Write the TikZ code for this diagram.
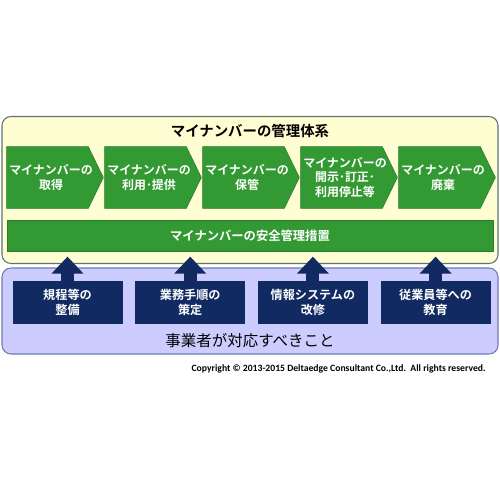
\documentclass[tikz,border=0pt]{standalone}
\usepackage{fontspec}
\setmainfont{Noto Sans CJK JP}[BoldFont={Noto Sans CJK JP Bold}]
\newfontfamily\latinfont{Carlito}
\usepackage{tikz}
\usetikzlibrary{arrows.meta, positioning, calc, backgrounds}
\definecolor{paper}{HTML}{FFFDD2}
\definecolor{paperedge}{HTML}{5E7472}
\definecolor{leaf}{HTML}{339933}
\definecolor{leafedge}{HTML}{2C7A35}
\definecolor{lilac}{HTML}{CCCCFF}
\definecolor{lilacedge}{HTML}{6F7DB0}
\definecolor{navy}{HTML}{122A62}
\tikzset{
  panel/.style    = {draw=paperedge, line width=0.6pt, rounded corners=1.8mm, inner sep=0pt,
                     minimum width=99.2mm},
  stage/.style    = {inner sep=0pt, minimum width=17.6mm, minimum height=12.2mm,
                     align=center, text=white, font=\fontsize{6.8}{8.4}\selectfont\bfseries},
  chevron/.style  = {fill=leaf, draw=leafedge, line width=0.3pt},
  bar/.style      = {fill=leaf, draw=leafedge, line width=0.3pt, minimum width=97.2mm,
                     minimum height=6.2mm, inner sep=0pt, text=white,
                     font=\fontsize{7}{8}\selectfont\bfseries},
  task/.style     = {fill=navy, draw=navy, minimum width=21.8mm, minimum height=8.4mm, inner sep=0pt,
                     align=center, text=white, font=\fontsize{6.9}{8.6}\selectfont\bfseries},
  uparrow/.style  = {draw=navy, line width=2.6mm, line cap=butt,
                     -{Triangle[width=6.2mm, length=3.4mm]}},
  heading/.style  = {font=\fontsize{8.2}{9}\selectfont\bfseries},
}
\begin{document}
\begin{tikzpicture}[x=0.2mm, y=-0.2mm]
  \useasboundingbox (0,0) rectangle (500,500);

  % two panels
  \begin{scope}[on background layer]
    \fill[white] (0,0) rectangle (500,500);
    \node[panel, fill=paper, minimum height=29.4mm] (mgmt) at (250,190) {};
    \node[panel, fill=lilac, draw=lilacedge, minimum height=17.2mm] (duty) at (250,311) {};
  \end{scope}
  \node[heading] (title) at (250,131) {マイナンバーの管理体系};

  % life cycle
  \node[stage] (s1) at (51,177.5) {マイナンバーの\\取得};
  \node[stage, right=1.86mm of s1] (s2) {マイナンバーの\\利用･提供};
  \node[stage, right=1.86mm of s2] (s3) {マイナンバーの\\保管};
  \node[stage, right=1.86mm of s3] (s4) {マイナンバーの\\開示･訂正･\\利用停止等};
  \node[stage, right=1.86mm of s4] (s5) {マイナンバーの\\廃棄};
  \begin{scope}[on background layer]
    \foreach \n in {s1,s2,s3,s4,s5}
      \draw[chevron] (\n.north west) -- ($(\n.north east)+(-7,0)$) -- ($(\n.east)+(8,0)$)
        -- ($(\n.south east)+(-7,0)$) -- (\n.south west) -- cycle;
  \end{scope}

  \node[bar] (safe) at (250,235.5) {マイナンバーの安全管理措置};

  % what the operator must do
  \node[task] (r1) at (67.5,302) {規程等の\\整備};
  \node[task, right=2.6mm of r1] (r2) {業務手順の\\策定};
  \node[task, right=2.6mm of r2] (r3) {情報システムの\\改修};
  \node[task, right=2.6mm of r3] (r4) {従業員等への\\教育};

  \draw[uparrow] (r1.north) -- ++(0,-24);
  \draw[uparrow] (r2.north) -- ++(0,-24);
  \draw[uparrow] (r3.north) -- ++(0,-24);
  \draw[uparrow] (r4.north) -- ++(0,-24);

  \node[font=\fontsize{8.8}{10}\selectfont] (who) at (250,341) {事業者が対応すべきこと};

  \node[anchor=east, inner sep=0pt, font=\latinfont\fontsize{5.5}{6.5}\selectfont\bfseries] (copy)
    at (486,369) {Copyright © 2013-2015 Deltaedge Consultant Co.,Ltd.\ \ All rights reserved.};
\end{tikzpicture}
\end{document}
